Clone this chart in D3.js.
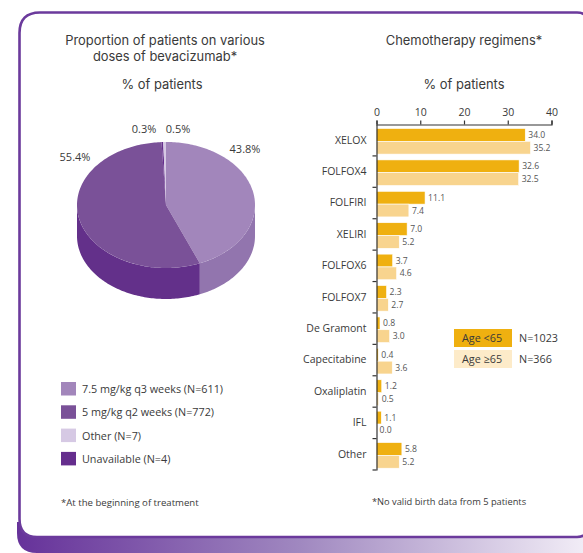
<!DOCTYPE html>
<html>
<head>
<meta charset="utf-8">
<script src="https://cdn.jsdelivr.net/npm/d3@7"></script>
<style>
  html, body { margin: 0; padding: 0; background: #fff; }
  svg { display: block; font-family: "Open Sans", "Noto Sans", sans-serif; }
</style>
</head>
<body>
<svg id="chart" width="583" height="553"></svg>
<script>
// Dose distribution (pie)
const doseLabels = ["7.5 mg/kg q3 weeks (N=611)", "5 mg/kg q2 weeks (N=772)", "Other (N=7)", "Unavailable (N=4)"];
const doseShares = [43.8, 55.4, 0.5, 0.3];
// Drawing order around the pie, clockwise from 12 o'clock
const pieOrder = [0, 1, 3, 2];

// Chemotherapy regimens (bars)
const regimens = ["XELOX", "FOLFOX4", "FOLFIRI", "XELIRI", "FOLFOX6", "FOLFOX7", "De Gramont", "Capecitabine", "Oxaliplatin", "IFL", "Other"];
const ageUnder65 = [34.0, 32.6, 11.1, 7.0, 3.7, 2.3, 0.8, 0.4, 1.2, 1.1, 5.8];
const age65Plus = [35.2, 32.5, 7.4, 5.2, 4.6, 2.7, 3.0, 3.6, 0.5, 0.0, 5.2];
const ageGroups = ["Age <65", "Age \u226565"];
const ageCounts = ["N=1023", "N=366"];
const xTicks = [0, 10, 20, 30, 40];

const svg = d3.select("#chart");
const textColor = "#3a3a3a";

// ---------- Frame ----------
const defs = svg.append("defs");
const grad = defs.append("linearGradient").attr("id", "band").attr("x1", "0").attr("x2", "1").attr("y1", "0").attr("y2", "0");
grad.append("stop").attr("offset", "0%").attr("stop-color", "#66329a");
grad.append("stop").attr("offset", "50%").attr("stop-color", "#a088c0");
grad.append("stop").attr("offset", "100%").attr("stop-color", "#f1ecf6");

svg.append("path")
  .attr("d", "M17,522 L17,533 Q17,553 37,553 L583,553 L583,522 Z")
  .attr("fill", "url(#band)");

svg.append("path")
  .attr("d", "M19.5,33 Q19.5,12.5 40,12.5 L577,12.5 Q588,12.5 588,24 L588,526 Q588,537 577,537 L37,537 Q19.5,537 19.5,519 Z")
  .attr("fill", "#fff")
  .attr("stroke", "#6b3a9c")
  .attr("stroke-width", 2.6);

// ---------- Titles ----------
const titleFont = "Inter, 'Open Sans', sans-serif";
function title(x, y, text, size) {
  svg.append("text").attr("x", x).attr("y", y).attr("text-anchor", "middle")
    .attr("font-family", titleFont)
    .attr("font-size", size).attr("fill", textColor).text(text);
}
title(165, 45, "Proportion of patients on various", 12.9);
title(165, 60.8, "doses of bevacizumab*", 12.9);
title(162, 89, "% of patients", 12.9);
title(464, 45, "Chemotherapy regimens*", 12.9);
title(464, 89, "% of patients", 12.9);

// ---------- 3D pie ----------
const pieColors = ["#a286bb", "#7a5198", "#d6c9e4", "#652e8d"];
const sideColors = ["#9275ae", "#63308a", "#c4b4d6", "#55227a"];
const cx = 166, cy = 205, rx = 89, ry = 63, depth = 31;

const pie = d3.pie().sort(null).value(i => doseShares[i]);
const arcs = pie(pieOrder);

const pt = (a, dy = 0) => [cx + rx * Math.sin(a), cy - ry * Math.cos(a) + dy];
function edge(a0, a1, dy) {
  const n = Math.max(2, Math.ceil((a1 - a0) / 0.02));
  return d3.range(n + 1).map(k => pt(a0 + (a1 - a0) * k / n, dy));
}

const pieG = svg.append("g");
// side walls: only the front half (angles between PI/2 and 3PI/2) is visible
arcs.forEach(d => {
  const a0 = Math.max(d.startAngle, Math.PI / 2);
  const a1 = Math.min(d.endAngle, 3 * Math.PI / 2);
  if (a1 <= a0) return;
  const top = edge(a0, a1, 0);
  const bottom = edge(a0, a1, depth).reverse();
  pieG.append("path")
    .attr("d", "M" + top.concat(bottom).map(p => p.join(",")).join("L") + "Z")
    .attr("fill", sideColors[d.data]);
});
// top faces
arcs.forEach(d => {
  const rim = edge(d.startAngle, d.endAngle, 0);
  pieG.append("path")
    .attr("d", "M" + cx + "," + cy + "L" + rim.map(p => p.join(",")).join("L") + "Z")
    .attr("fill", pieColors[d.data]);
});

// slice value labels
const pieLabelPos = { 0: [245, 153], 1: [75, 161], 2: [178, 133], 3: [144, 133] };
arcs.forEach(d => {
  const p = pieLabelPos[d.data];
  svg.append("text").attr("x", p[0]).attr("y", p[1]).attr("text-anchor", "middle")
    .attr("font-size", 11).attr("fill", textColor)
    .text(d3.format(".1f")(doseShares[d.data]) + "%");
});

// pie legend
const leg = svg.append("g");
doseLabels.forEach((t, i) => {
  const y = 382 + i * 23.3;
  leg.append("rect").attr("x", 61).attr("y", y).attr("width", 15).attr("height", 13.5).attr("fill", pieColors[i]);
  leg.append("text").attr("x", 82).attr("y", y + 11).attr("font-size", 10.8).attr("fill", textColor).text(t);
});

svg.append("text").attr("x", 61).attr("y", 506).attr("font-size", 9.6).attr("fill", textColor)
  .text("*At the beginning of treatment");

// ---------- Bar chart ----------
const x = d3.scaleLinear().domain([0, 40]).range([376.5, 551.5]);
const y = d3.scaleBand().domain(regimens).range([124.5, 470]).paddingInner(0).paddingOuter(0);
const barH = 12.8, barOff = 4;
const barColors = ["#efb010", "#f8d48e"];

const bars = svg.append("g");
regimens.forEach((r, i) => {
  [ageUnder65[i], age65Plus[i]].forEach((v, k) => {
    const by = y(r) + barOff + k * barH;
    bars.append("rect")
      .attr("x", x(0)).attr("y", by)
      .attr("width", x(v) - x(0)).attr("height", barH)
      .attr("fill", barColors[k])
      .attr("stroke", "#fff").attr("stroke-width", 0.6);
    bars.append("text")
      .attr("x", x(v) + 3).attr("y", by + barH / 2 + 3)
      .attr("font-size", 8.6).attr("fill", "#555")
      .text(d3.format(".1f")(v));
  });
});

// top axis
const xAxis = svg.append("g").attr("transform", "translate(0,124.5)")
  .call(d3.axisTop(x).tickValues(xTicks).tickSize(4).tickSizeOuter(4).tickPadding(5));
xAxis.selectAll("path, line").attr("stroke", "#333").attr("stroke-width", 1.2);
xAxis.selectAll("text").attr("font-size", 10.5).attr("fill", textColor).attr("font-family", "Open Sans, sans-serif");

// left axis: labels at band centres, ticks at band boundaries
const yAxis = svg.append("g").attr("transform", "translate(376.5,0)")
  .call(d3.axisLeft(y).tickSize(0).tickPadding(10).tickSizeOuter(0));
yAxis.select(".domain").attr("stroke", "#333").attr("stroke-width", 1.2);
yAxis.selectAll("text").attr("font-size", 10.5).attr("fill", textColor).attr("font-family", "Open Sans, sans-serif");
regimens.concat([null]).forEach((r, i) => {
  const yy = r === null ? y.range()[1] : y(r);
  if (i === 0) return;
  yAxis.append("line").attr("x1", -4).attr("x2", 0).attr("y1", yy).attr("y2", yy)
    .attr("stroke", "#333").attr("stroke-width", 1.2);
});

// bar legend
const bl = svg.append("g");
ageGroups.forEach((g, k) => {
  const ly = 329 + k * 21;
  bl.append("rect").attr("x", 454).attr("y", ly).attr("width", 58).attr("height", 18)
    .attr("fill", k === 0 ? "#efb010" : "#fdebc9");
  bl.append("text").attr("x", 462).attr("y", ly + 13).attr("font-size", 10.8).attr("fill", textColor).text(g);
  bl.append("text").attr("x", 519).attr("y", ly + 13).attr("font-size", 10.8).attr("fill", textColor).text(ageCounts[k]);
});

svg.append("text").attr("x", 449).attr("y", 505).attr("text-anchor", "middle")
  .attr("font-size", 9.3).attr("fill", textColor)
  .text("*No valid birth data from 5 patients");
</script>
</body>
</html>
